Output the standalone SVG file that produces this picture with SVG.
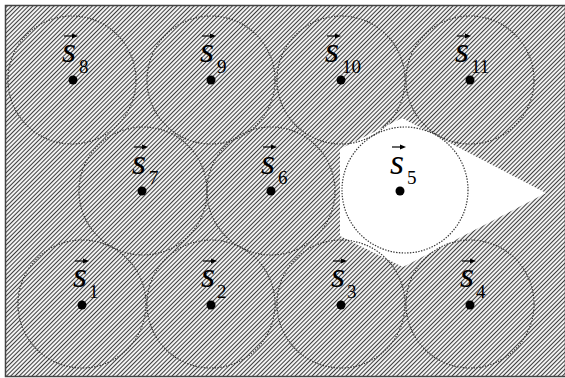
<svg xmlns="http://www.w3.org/2000/svg" xmlns:xlink="http://www.w3.org/1999/xlink" width="565" height="378" viewBox="0 0 565 378">
<style>
.c{fill:none;stroke:#333;stroke-width:1.2;stroke-dasharray:1.4 1.4}
.d{fill:#000}
.s{font-family:"Liberation Serif","Times New Roman",serif;font-style:italic;font-size:36px;fill:#000}
.n{font-family:"Liberation Serif","Times New Roman",serif;font-size:19px;fill:#000}
</style>
<defs>
<pattern id="h" width="3" height="3" patternUnits="userSpaceOnUse" patternTransform="rotate(45)">
<rect width="3" height="3" fill="#f2f2f2"/>
<rect width="0.95" height="3" fill="#333"/>
</pattern>
<g id="arr">
<line x1="0" y1="0" x2="10" y2="0" stroke="#000" stroke-width="1.2"/>
<polygon points="14,0 8,-2.6 8,2.6" fill="#000"/>
</g>
</defs>
<rect x="0" y="0" width="565" height="378" fill="#fff"/>
<rect id="field" x="5.5" y="5.5" width="560" height="371" fill="url(#h)" stroke="#444" stroke-width="1.5"/>
<g id="cell5">
<polygon points="402,118 546,193 403,267 340,236 340,149" fill="#fff"/>
<circle cx="405" cy="190" r="63" fill="#fff"/>
</g>
<g id="s8"><circle class="c" cx="72" cy="80" r="64"/><circle class="d" cx="73" cy="80" r="4.5"/><use xlink:href="#arr" x="64" y="36"/><text class="s" x="62" y="62">s</text><text class="n" x="79" y="73">8</text></g>
<g id="s9"><circle class="c" cx="211" cy="80" r="64"/><circle class="d" cx="211" cy="80" r="4.5"/><use xlink:href="#arr" x="202" y="36"/><text class="s" x="200" y="62">s</text><text class="n" x="217" y="73">9</text></g>
<g id="s10"><circle class="c" cx="341" cy="80" r="64"/><circle class="d" cx="341" cy="80" r="4.5"/><use xlink:href="#arr" x="327" y="36"/><text class="s" x="325" y="62">s</text><text class="n" x="342" y="73">10</text></g>
<g id="s11"><circle class="c" cx="470" cy="80" r="64"/><circle class="d" cx="470" cy="80" r="4.5"/><use xlink:href="#arr" x="457" y="36"/><text class="s" x="455" y="62">s</text><text class="n" x="471" y="73">11</text></g>
<g id="s7"><circle class="c" cx="143" cy="191" r="64"/><circle class="d" cx="142" cy="191" r="4.5"/><use xlink:href="#arr" x="134" y="147"/><text class="s" x="132" y="174">s</text><text class="n" x="149" y="184">7</text></g>
<g id="s6"><circle class="c" cx="271" cy="191" r="64"/><circle class="d" cx="271" cy="191" r="4.5"/><use xlink:href="#arr" x="263" y="147"/><text class="s" x="261" y="174">s</text><text class="n" x="278" y="184">6</text></g>
<g id="s5"><circle class="c" cx="405" cy="190" r="63"/><circle class="d" cx="400" cy="191" r="4.5"/><use xlink:href="#arr" x="392" y="147"/><text class="s" x="390" y="174">s</text><text class="n" x="407" y="184">5</text></g>
<g id="s1"><circle class="c" cx="82" cy="304" r="64"/><circle class="d" cx="82" cy="305" r="4.5"/><use xlink:href="#arr" x="75" y="261"/><text class="s" x="73" y="287">s</text><text class="n" x="89" y="298">1</text></g>
<g id="s2"><circle class="c" cx="211" cy="304" r="64"/><circle class="d" cx="211" cy="305" r="4.5"/><use xlink:href="#arr" x="203" y="261"/><text class="s" x="201" y="287">s</text><text class="n" x="217" y="298">2</text></g>
<g id="s3"><circle class="c" cx="341" cy="304" r="64"/><circle class="d" cx="341" cy="305" r="4.5"/><use xlink:href="#arr" x="333" y="261"/><text class="s" x="331" y="287">s</text><text class="n" x="347" y="298">3</text></g>
<g id="s4"><circle class="c" cx="470" cy="304" r="64"/><circle class="d" cx="470" cy="305" r="4.5"/><use xlink:href="#arr" x="462" y="261"/><text class="s" x="460" y="287">s</text><text class="n" x="476" y="298">4</text></g>
</svg>
